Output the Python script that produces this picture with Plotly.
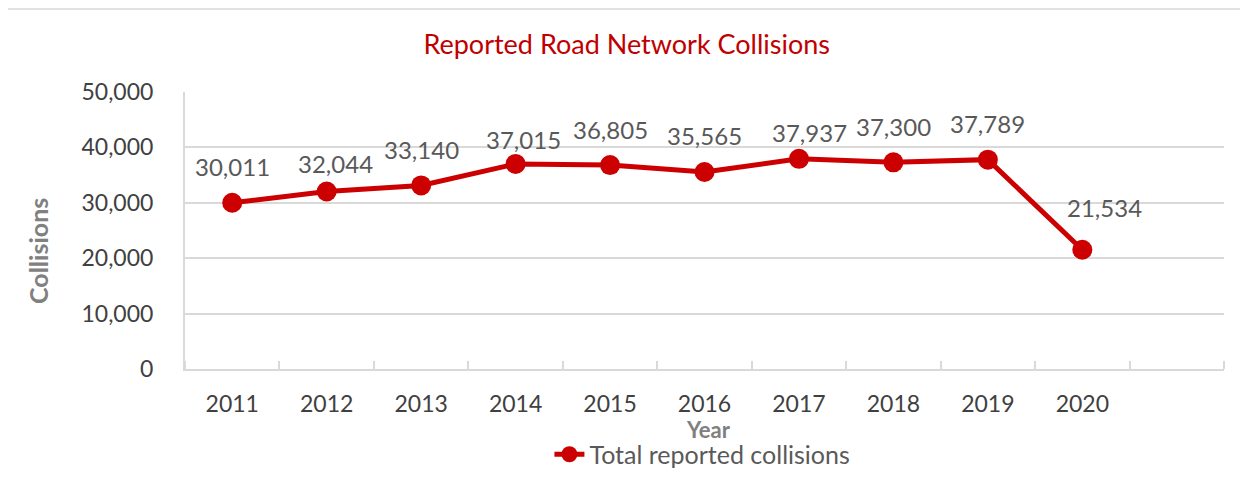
import plotly.graph_objects as go

years = [2011, 2012, 2013, 2014, 2015, 2016, 2017, 2018, 2019, 2020]
collisions = [30011, 32044, 33140, 37015, 36805, 35565, 37937, 37300, 37789, 21534]

RED = "#CC0000"
FONT = "Lato"

# pixel nudges of some data labels (default sits straight above the point)
label_nudge = {2012: (9, 28), 2014: (8, 24), 2017: (11, 26), 2020: (22, 42)}

fig = go.Figure()

fig.add_trace(go.Scatter(
    x=years,
    y=collisions,
    mode="lines+markers",
    name="Total reported collisions",
    line=dict(color=RED, width=5),
    marker=dict(size=20, color=RED),
))

# data labels above the points
for yr, val in zip(years, collisions):
    dx, dy = label_nudge.get(yr, (0, 36))
    fig.add_annotation(
        x=yr, y=val, text=f"{val:,}",
        showarrow=False, xshift=dx, yshift=dy,
        font=dict(family=FONT, size=24, color="#595959"),
    )

# axis titles
fig.add_annotation(
    xref="paper", yref="paper", x=-0.1415, y=0.426,
    xanchor="center", yanchor="middle",
    text="<b>Collisions</b>", textangle=-90, showarrow=False,
    font=dict(family=FONT, size=25, color="#808080"),
)
fig.add_annotation(
    xref="paper", yref="paper", x=0.5043, y=-0.219,
    xanchor="center", yanchor="middle",
    text="<b>Year</b>", showarrow=False,
    font=dict(family=FONT, size=22, color="#808080"),
)

# chart frame
fig.add_shape(
    type="rect", xref="paper", yref="paper",
    x0=-0.1713, x1=1.025, y0=-0.437, y1=1.2996,
    line=dict(color="#D9D9D9", width=1.5), layer="below",
)

# the page body adds an 8px offset, so the figure is sized to fit
fig.update_layout(
    width=1240, height=473,
    margin=dict(l=177, r=24, t=84, b=112),
    paper_bgcolor="white", plot_bgcolor="white",
    title=dict(
        text="Reported Road Network Collisions",
        x=0.499, xanchor="center", y=0.922, yanchor="middle",
        font=dict(family=FONT, size=27, color="#C00000"),
    ),
    xaxis=dict(
        range=[2010.5, 2021.5], automargin=False,
        tickvals=years, ticktext=[str(y) for y in years],
        showgrid=False, zeroline=False,
        showline=True, linecolor="#D9D9D9", linewidth=2,
        ticks="", ticklabelstandoff=13,
        minor=dict(tick0=2010.5, dtick=1, ticks="inside", ticklen=8,
                   tickcolor="#D9D9D9", tickwidth=2, showgrid=False),
        tickfont=dict(family=FONT, size=23, color="#404040"),
    ),
    yaxis=dict(
        range=[0, 50000], dtick=10000, tickformat=",", automargin=False,
        showgrid=True, gridcolor="#D9D9D9", gridwidth=2,
        zeroline=False, showline=True, linecolor="#D9D9D9", linewidth=2,
        ticks="", ticklabelstandoff=25,
        tickfont=dict(family=FONT, size=23, color="#404040"),
    ),
    showlegend=True,
    legend=dict(
        orientation="h", x=0.498, xanchor="center",
        yref="container", y=0.056, yanchor="middle",
        font=dict(family=FONT, size=25, color="#595959"),
        bgcolor="rgba(0,0,0,0)",
    ),
)

fig.write_html("out.html")
